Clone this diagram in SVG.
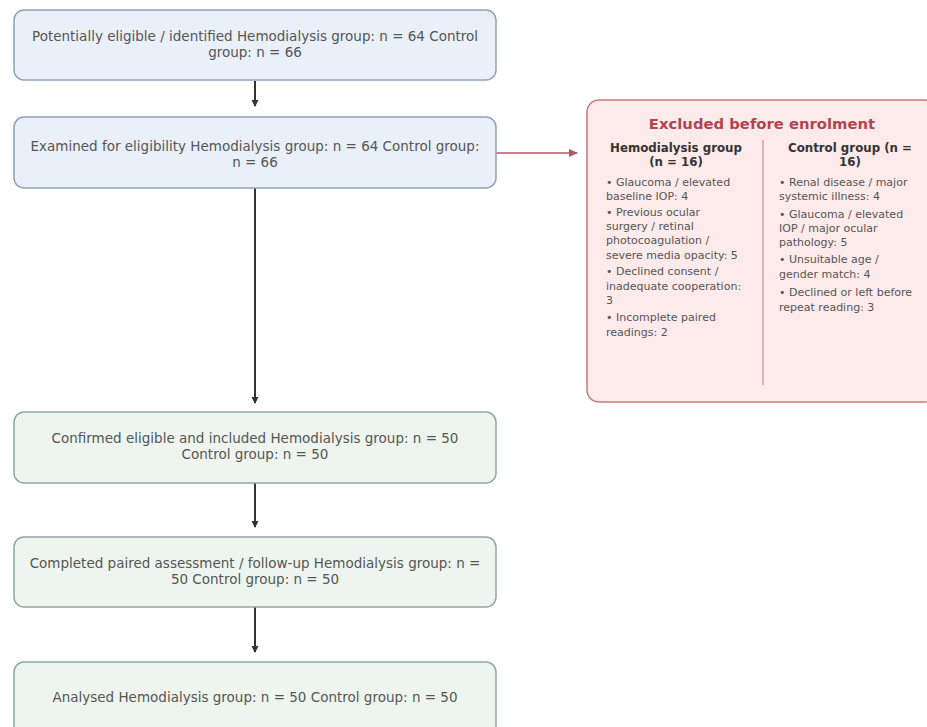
<svg xmlns="http://www.w3.org/2000/svg" width="927" height="727" viewBox="0 0 927 727">
<style>
.bx{stroke-width:1.5}
.blue{fill:#e9f0fa;stroke:#8fa2b6}
.green{fill:#edf5ee;stroke:#90a8a2}
.t{font-family:"DejaVu Sans",sans-serif;font-size:13.5px;fill:#555;text-anchor:middle}
.ex{fill:#fdeaea;stroke:#c47a82;stroke-width:1.5}
.ttl{font-family:"DejaVu Sans",sans-serif;font-size:14.8px;font-weight:bold;fill:#b24450;text-anchor:middle}
.hd{font-family:"DejaVu Sans",sans-serif;font-size:11.8px;font-weight:bold;fill:#333;text-anchor:middle}
.li{font-family:"DejaVu Sans",sans-serif;font-size:11px;fill:#555}
.c{stroke:#333;stroke-width:2;fill:none}
.cr{stroke:#b05a66;stroke-width:1.5;fill:none}
</style>
<defs>
<marker id="ah" markerWidth="8" markerHeight="8" refX="6" refY="4" orient="auto" markerUnits="userSpaceOnUse">
<path d="M0,0.5 L7,4 L0,7.5 z" fill="#333"/>
</marker>
<marker id="ahr" markerWidth="10" markerHeight="10" refX="8" refY="5" orient="auto" markerUnits="userSpaceOnUse">
<path d="M0,1 L9,5 L0,9 z" fill="#b05a66"/>
</marker>
</defs>
<rect width="927" height="727" fill="#ffffff"/>
<g id="connectors">
<line class="c" x1="255" y1="81" x2="255" y2="106" marker-end="url(#ah)"/>
<line class="c" x1="255" y1="188" x2="255" y2="403" marker-end="url(#ah)"/>
<line class="c" x1="255" y1="483" x2="255" y2="527" marker-end="url(#ah)"/>
<line class="c" x1="255" y1="607" x2="255" y2="652" marker-end="url(#ah)"/>
<line class="cr" x1="496" y1="153" x2="577" y2="153" marker-end="url(#ahr)"/>
</g>
<g id="n1">
<rect class="bx blue" x="14" y="10" width="482" height="70" rx="10"/>
<text class="t" x="255" y="41">Potentially eligible / identified Hemodialysis group: n = 64 Control</text>
<text class="t" x="255" y="57">group: n = 66</text>
</g>
<g id="n2">
<rect class="bx blue" x="14" y="117" width="482" height="71" rx="10"/>
<text class="t" x="255" y="151">Examined for eligibility Hemodialysis group: n = 64 Control group:</text>
<text class="t" x="255" y="167">n = 66</text>
</g>
<g id="n3">
<rect class="bx green" x="14" y="412" width="482" height="71" rx="10"/>
<text class="t" x="255" y="443">Confirmed eligible and included Hemodialysis group: n = 50</text>
<text class="t" x="255" y="459">Control group: n = 50</text>
</g>
<g id="n4">
<rect class="bx green" x="14" y="537" width="482" height="70" rx="10"/>
<text class="t" x="255" y="568">Completed paired assessment / follow-up Hemodialysis group: n =</text>
<text class="t" x="255" y="584">50 Control group: n = 50</text>
</g>
<g id="n5">
<rect class="bx green" x="14" y="662" width="482" height="80" rx="10"/>
<text class="t" x="255" y="702">Analysed Hemodialysis group: n = 50 Control group: n = 50</text>
</g>
<g id="excluded">
<rect class="ex" x="587" y="100" width="350" height="302" rx="12"/>
<text class="ttl" x="762" y="129">Excluded before enrolment</text>
<line x1="763" y1="140" x2="763" y2="385" stroke="#c9a2a6" stroke-width="1.5"/>
<text class="hd" x="676" y="152">Hemodialysis group</text>
<text class="hd" x="676" y="166">(n = 16)</text>
<text class="hd" x="850" y="152">Control group (n =</text>
<text class="hd" x="850" y="166">16)</text>
<text class="li" x="606" y="186">• Glaucoma / elevated</text>
<text class="li" x="606" y="200">baseline IOP: 4</text>
<text class="li" x="606" y="216">• Previous ocular</text>
<text class="li" x="606" y="230">surgery / retinal</text>
<text class="li" x="606" y="244">photocoagulation /</text>
<text class="li" x="606" y="259">severe media opacity: 5</text>
<text class="li" x="606" y="275">• Declined consent /</text>
<text class="li" x="606" y="290">inadequate cooperation:</text>
<text class="li" x="606" y="304">3</text>
<text class="li" x="606" y="321">• Incomplete paired</text>
<text class="li" x="606" y="336">readings: 2</text>
<text class="li" x="779" y="186">• Renal disease / major</text>
<text class="li" x="779" y="200">systemic illness: 4</text>
<text class="li" x="779" y="218">• Glaucoma / elevated</text>
<text class="li" x="779" y="232">IOP / major ocular</text>
<text class="li" x="779" y="246">pathology: 5</text>
<text class="li" x="779" y="263">• Unsuitable age /</text>
<text class="li" x="779" y="278">gender match: 4</text>
<text class="li" x="779" y="296">• Declined or left before</text>
<text class="li" x="779" y="311">repeat reading: 3</text>
</g>
</svg>
